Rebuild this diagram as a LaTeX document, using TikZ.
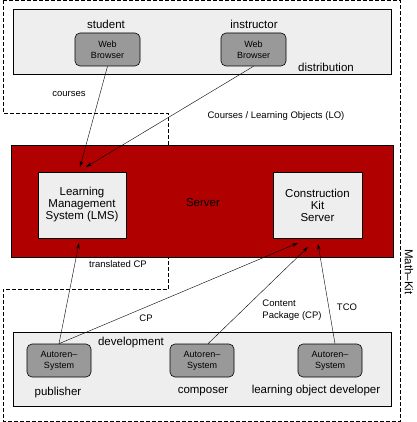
\documentclass[tikz,border=0pt]{standalone}
\usepackage{fontspec}
\setmainfont{Liberation Sans}
\usetikzlibrary{positioning,arrows.meta}

\definecolor{srvred}{HTML}{B00000}
\definecolor{panelgray}{HTML}{EEEEEE}
\definecolor{toolgray}{HTML}{999999}

\tikzset{
	panel/.style={draw, fill=panelgray, line width=0.6pt, inner sep=0pt},
	tool/.style={draw, fill=toolgray, rounded corners=5pt, line width=0.6pt, minimum width=64pt, minimum height=33pt, align=center, font=\fontsize{9}{11}\selectfont, inner sep=0pt},
	sysbox/.style={draw, fill=panelgray, line width=0.6pt, minimum width=88pt, minimum height=66pt, align=center, font=\fontsize{11.5}{12}\selectfont, inner sep=0pt},
	biglbl/.style={font=\fontsize{11.5}{13}\selectfont, inner sep=0pt},
	smalllbl/.style={font=\fontsize{9.5}{12}\selectfont, inner sep=0pt},
	arr/.style={-{Stealth[length=6pt, width=3.5pt]}, line width=0.4pt}
}

\begin{document}
\begin{tikzpicture}[x=1pt, y=-1pt]
	\useasboundingbox (0,0) rectangle (416,422);

	% Math-Kit outline
	\draw[dash pattern=on 4pt off 2pt, line width=0.6pt] (3,0.5) -- (400,0.5) -- (400,421) -- (3,421) -- (3,289) -- (168,289) -- (168,113) -- (3,113) -- cycle;
	\node[biglbl, rotate=-90] (mathkit) at (409,272) {Math--Kit};

	% distribution
	\node[panel, minimum width=378pt, minimum height=65pt] (dist) at (202,41.5) {};
	\node[biglbl] (student) at (106,24) {student};
	\node[biglbl] (instructor) at (254,24) {instructor};
	\node[biglbl] (distlbl) at (326,67) {distribution};
	\node[tool, minimum width=65pt] (sb) at (107.5,49.5) {Web\\Browser};
	\node[tool, minimum width=65pt] (ib) at (253.5,49.5) {Web\\Browser};

	% server
	\node[draw, fill=srvred, line width=0.6pt, minimum width=382pt, minimum height=112pt, inner sep=0pt] (srv) at (202,201) {};
	\node[biglbl] (srvlbl) at (203,203) {Server};
	\node[sysbox] (lms) at (82,205) {Learning\\Management\\System (LMS)};
	\node[sysbox, minimum width=89pt] (cks) at (317.5,205) {Construction\\Kit\\Server};

	% development
	\node[panel, minimum width=378pt, minimum height=74pt] (dev) at (202,369) {};
	\node[biglbl] (devlbl) at (131,343) {development};
	\node[tool] (pa) at (59,360.5) {Autoren--\\System};
	\node[tool] (ca) at (202,360.5) {Autoren--\\System};
	\node[tool] (la) at (330,360.5) {Autoren--\\System};
	\node[biglbl] (publisher) at (58,393) {publisher};
	\node[biglbl] (composer) at (203,392) {composer};
	\node[biglbl] (lod) at (316,391) {learning object developer};

	% arrow ends
	\coordinate (lmsA) at (80,167);
	\coordinate (lmsB) at (86,167);
	\coordinate (lmsC) at (79,243);
	\coordinate (cksA) at (298,243);
	\coordinate (cksB) at (308,247);
	\coordinate (cksC) at (318,244);

	\draw[arr] (sb.south) -- (lmsA);
	\draw[arr] (ib.south) -- (lmsB);
	\draw[arr] (pa.north) -- (lmsC);
	\draw[arr] (pa.north) -- (cksA);
	\draw[arr] ([xshift=6pt]ca.north) -- (cksB);
	\draw[arr] ([xshift=5pt]la.north) -- (cksC);

	% connector labels
	\node[smalllbl] (courses) at (69,94) {courses};
	\node[smalllbl] (colo) at (276,116) {Courses / Learning Objects (LO)};
	\node[smalllbl] (tcp) at (118,264) {translated CP};
	\node[smalllbl] (cp) at (146,318) {CP};
	\node[smalllbl, align=left] (contpkg) at (292,310) {Content\\Package (CP)};
	\node[smalllbl] (tco) at (347,307) {TCO};
\end{tikzpicture}
\end{document}
